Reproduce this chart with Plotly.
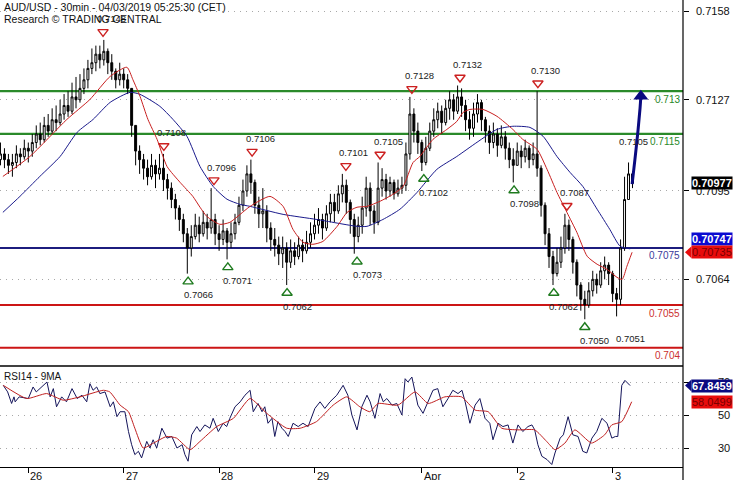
import plotly.graph_objects as go

# ------------------------------------------------------------------ data
day_tick_h = [0, 24, 48, 72, 99, 123, 147]
day_tick_labels = ["26", "27", "28", "29", "Apr", "2", "3"]

# hourly bars (index = hours from Mar 26 00:00, weekend removed); prices in pips (x 0.0001)
bar_h = list(range(-7, 153))
first_open = 7106
bar_close = [7108, 7106, 7104, 7105, 7108, 7107, 7110, 7109, 7112, 7115,
             7113, 7118, 7116, 7120, 7119, 7122, 7125, 7123, 7128, 7127,
             7131, 7134, 7138, 7140, 7143, 7141, 7144, 7140, 7137, 7134,
             7136, 7134, 7131, 7118, 7109, 7106, 7103, 7100, 7104, 7101,
             7103, 7099, 7096, 7092, 7089, 7085, 7080, 7075, 7079, 7083,
             7080, 7084, 7082, 7085, 7080, 7078, 7081, 7077, 7080, 7084,
             7090, 7095, 7101, 7098, 7090, 7087, 7088, 7082, 7078, 7076,
             7073, 7075, 7070, 7074, 7072, 7076, 7074, 7077, 7080, 7083,
             7085, 7082, 7087, 7091, 7088, 7094, 7097, 7091, 7085, 7079,
             7083, 7089, 7096, 7088, 7084, 7096, 7099, 7095, 7098, 7094,
             7096, 7097, 7108, 7122, 7116, 7112, 7105, 7110, 7116, 7120,
             7123, 7119, 7124, 7127, 7123, 7128, 7125, 7120, 7117, 7122,
             7126, 7120, 7116, 7112, 7115, 7111, 7114, 7110, 7106, 7104,
             7109, 7107, 7110, 7106, 7108, 7103, 7090, 7080, 7072, 7066,
             7070, 7075, 7083, 7078, 7070, 7062, 7057, 7055, 7060, 7064,
             7062, 7067, 7069, 7066, 7059, 7057, 7075, 7092, 7101, 7097.7]
bar_high = [7112, 7110, 7108, 7108, 7111, 7110, 7113, 7112, 7115, 7118,
            7119, 7121, 7122, 7124, 7125, 7127, 7129, 7130, 7133, 7135,
            7136, 7138, 7141, 7145, 7146, 7146, 7148, 7145, 7143, 7138,
            7140, 7138, 7136, 7131, 7118, 7111, 7108, 7106, 7108, 7106,
            7108, 7108, 7101, 7098, 7094, 7090, 7087, 7082, 7083, 7087,
            7086, 7088, 7087, 7096, 7087, 7083, 7085, 7082, 7084, 7087,
            7093, 7099, 7104, 7106, 7099, 7093, 7096, 7090, 7084, 7082,
            7079, 7079, 7077, 7078, 7077, 7079, 7078, 7081, 7084, 7087,
            7089, 7087, 7090, 7094, 7094, 7097, 7101, 7099, 7092, 7087,
            7086, 7093, 7100, 7098, 7090, 7105, 7103, 7101, 7100, 7099,
            7099, 7100, 7112, 7128, 7124, 7119, 7113, 7114, 7119, 7124,
            7126, 7125, 7127, 7130, 7129, 7132, 7131, 7127, 7123, 7126,
            7129, 7127, 7121, 7118, 7119, 7117, 7118, 7116, 7112, 7110,
            7112, 7111, 7113, 7111, 7112, 7130, 7104, 7091, 7082, 7074,
            7075, 7079, 7087, 7085, 7079, 7071, 7063, 7060, 7063, 7067,
            7066, 7070, 7072, 7070, 7067, 7061, 7078, 7100, 7105, 7102]
bar_low = [7104, 7103, 7101, 7100, 7103, 7104, 7106, 7105, 7107, 7110,
           7111, 7112, 7114, 7115, 7116, 7118, 7120, 7121, 7122, 7124,
           7126, 7129, 7131, 7136, 7137, 7138, 7139, 7136, 7134, 7131,
           7132, 7131, 7129, 7114, 7104, 7101, 7099, 7097, 7099, 7096,
           7099, 7095, 7092, 7089, 7085, 7081, 7077, 7066, 7072, 7078,
           7077, 7079, 7078, 7080, 7076, 7074, 7076, 7071, 7075, 7078,
           7083, 7088, 7093, 7094, 7087, 7082, 7082, 7077, 7074, 7072,
           7069, 7068, 7062, 7068, 7069, 7071, 7070, 7073, 7075, 7078,
           7080, 7078, 7081, 7084, 7084, 7087, 7091, 7087, 7080, 7073,
           7077, 7080, 7086, 7083, 7080, 7083, 7093, 7092, 7093, 7092,
           7093, 7094, 7095, 7106, 7112, 7108, 7102, 7104, 7109, 7114,
           7117, 7115, 7118, 7120, 7120, 7122, 7121, 7116, 7113, 7114,
           7119, 7116, 7112, 7108, 7110, 7107, 7110, 7106, 7103, 7098,
           7104, 7103, 7105, 7103, 7104, 7100, 7086, 7076, 7068, 7062,
           7065, 7068, 7073, 7074, 7066, 7058, 7053, 7050, 7054, 7058,
           7059, 7061, 7064, 7062, 7056, 7051, 7055, 7074, 7092, 7096]

# moving averages (hour index, pips)
ma_fast_h = [-6.4, 0.4, 9.7, 15.5, 20.6, 24.8, 26.3, 28.1, 30.1, 32.4, 34.9, 38.2, 41.4,
             43.2, 44.9, 48.2, 50.7, 53.3, 55.8, 60.8, 64.1, 66.6, 69.1, 71.6, 74.1,
             77.7, 80.2, 82.7, 85.2, 88.5, 91.7, 94.3, 96.8, 98.5, 101.8, 105.3, 107.8,
             109.4, 111.1, 114.4, 117.9, 121.9, 124.4, 128.0, 130.5, 133.0, 135.5, 138.0,
             140.6, 143.1, 145.6, 148.1, 149.4, 150.6, 151.9]
ma_fast_v = [7100.1, 7107.1, 7120.1, 7127.1, 7135.2, 7138.4, 7134.1, 7128.2, 7120.1, 7113.1,
             7103.6, 7098.0, 7093.1, 7089.3, 7086.1, 7083.3, 7084.0, 7086.8, 7089.6, 7093.1,
             7089.6, 7081.5, 7077.0, 7076.3, 7077.3, 7082.6, 7087.5, 7089.3, 7089.6, 7091.4,
             7093.8, 7096.6, 7105.0, 7107.1, 7113.1, 7116.6, 7119.4, 7122.6, 7123.6, 7123.6,
             7121.2, 7116.6, 7113.1, 7109.6, 7102.6, 7094.5, 7087.5, 7080.5, 7072.1, 7069.3,
             7067.5, 7064.7, 7064.0, 7068.6, 7073.5]
ma_slow_h = [-6.4, -2.1, 2.9, 8.0, 12.3, 16.3, 20.6, 25.6, 28.1, 33.1, 36.4, 39.9, 43.2,
             46.5, 50.0, 53.3, 55.8, 64.1, 72.6, 82.7, 85.2, 89.2, 93.5, 97.8, 102.8,
             107.8, 112.9, 117.9, 121.9, 126.2, 129.5, 133.0, 136.3, 139.5, 143.1, 146.3,
             148.9, 151.4]
ma_slow_v = [7087.5, 7093.1, 7100.1, 7107.1, 7115.6, 7120.1, 7126.1, 7129.6, 7128.9, 7124.7,
             7120.1, 7114.2, 7103.6, 7096.6, 7092.1, 7090.3, 7089.6, 7086.8, 7085.0, 7082.6,
             7082.6, 7085.0, 7088.6, 7094.5, 7102.6, 7107.1, 7112.1, 7116.6, 7117.7, 7117.3,
             7114.2, 7107.1, 7101.5, 7096.6, 7088.6, 7081.5, 7075.6, 7074.7]

# support / resistance levels
level_values = [0.7130, 0.7115, 0.7075, 0.7055, 0.7040]
level_texts = ["0.713", "0.7115", "0.7075", "0.7055", "0.704"]

# swing highs / lows
peak_h = [18.8, 34.1, 46.7, 56.3, 79.9, 88.5, 96.5, 108.6, 128.2, 135.5]
peak_p = [0.7148, 0.7108, 0.7096, 0.7106, 0.7101, 0.7105, 0.7128, 0.7132, 0.7130, 0.7087]
trough_h = [40.2, 50.2, 65.1, 82.7, 99.5, 122.2, 132.2, 140.0]
trough_p = [0.7066, 0.7071, 0.7062, 0.7073, 0.7102, 0.7098, 0.7062, 0.7050]
extra_low_h, extra_low_p = [148.3], [0.7051]
extra_high_h, extra_high_p = [151.0], [0.7105]

# projection arrow
arrow_h = [151.9, 152.6, 153.4, 153.9, 154.1]
arrow_p = [7097.4, 7105.9, 7116.4, 7124.1, 7128.2]

# RSI(14) and its 9-period MA
rsi_h = [-6.3, -5.2, -4.2, -3.6, -3.3, -2.3, 0, 1.2, 2.0, 2.9, 4.7, 5.5, 6.3, 7.1, 8.4, 9.6,
         11, 12.3, 13.5, 14.7, 15.5, 16.3, 17.2, 18.0, 19.3, 20.6, 21.4, 22.3, 23.1, 24.3,
         25.2, 26, 26.8, 27.7, 28.5, 29.8, 30.6, 31.4, 32.3, 33.6, 34.9, 36.1, 37.4, 38.7,
         39.4, 40.2, 41.1, 42.4, 43.2, 44.4, 45.7, 46.5, 47.8, 49, 49.9, 50.7, 52, 53.3,
         54.5, 55.8, 56.6, 57.8, 58.8, 59.5, 60.3, 61.3, 62, 62.8, 63.8, 64.6, 65.4, 66.6,
         67.9, 69.1, 70.4, 72.1, 73.4, 74.6, 75.9, 77.6, 79.2, 80.4, 81.4, 82.7, 83.9, 85.2,
         86, 87.2, 88.5, 89.3, 90.2, 91.5, 92.7, 94, 94.8, 95.5, 96.5, 97.3, 98, 99.3,
         100.6, 101.8, 103, 104.3, 105.6, 106.8, 108.1, 109.1, 109.9, 111.1, 112.4, 113.6,
         114.9, 116.1, 116.9, 118.2, 119.4, 120.7, 121.9, 123.2, 124.4, 125.7, 126.7, 127.4,
         128.2, 129.2, 130.5, 131.7, 132.5, 133.8, 134.6, 135.8, 137, 138.3, 139.5, 140.5,
         141.8, 143, 144.3, 145.6, 146.8, 147.7, 148.3, 149.3, 150.1, 151.4]
rsi_v = [68, 64, 57, 61, 58, 61, 60, 67, 64, 66, 70, 61, 66, 55, 61, 58,
         66, 60, 62, 58, 69, 65, 67, 63, 64, 55, 58, 49, 52, 52,
         40, 32, 26, 28, 24, 34, 30, 35, 30, 42, 36, 37, 30, 32,
         26, 22, 38, 43, 40, 44, 42, 48, 40, 45, 43, 48, 55, 58,
         62, 65, 52, 57, 52, 55, 45, 48, 37, 46, 42, 40, 37, 45,
         43, 45, 43, 54, 58, 54, 58, 62, 68, 62, 50, 41, 55, 62,
         58, 48, 63, 58, 60, 56, 57, 50, 72, 70, 73, 64, 56, 51,
         58, 65, 66, 55, 60, 65, 63, 65, 58, 45, 56, 60,
         48, 45, 35, 45, 43, 44, 33, 44, 40, 43, 44, 41,
         32, 25, 23, 20, 27, 36, 38, 49, 38, 37, 28, 27,
         36, 40, 48, 45, 36, 37, 37, 68, 71, 67.8459]
rsi_ma_h = [-6.3, -0.4, 4.6, 8.8, 13, 18.9, 20.5, 23.1, 25.2, 26.8, 28.9, 31.5, 34.8, 37.3,
            40.7, 43.2, 47.4, 51.6, 55.8, 60, 65, 68.4, 72.5, 76.7, 80.1, 83.4, 85.9, 88,
            93, 97.3, 100.6, 104.8, 109, 112.4, 115.7, 119.1, 123.2, 127.4, 130.4, 132.5,
            135, 137.5, 141.7, 145, 146.8, 149.3, 151.8]
rsi_ma_v = [68, 60, 63, 59, 61, 65, 64, 56, 52, 42, 30, 33, 37, 36,
            29, 34, 43, 48, 60, 51, 42, 42, 46, 56, 61, 55, 52, 57,
            56, 64, 57, 61, 61, 53, 52, 42, 41, 41, 34, 29,
            33, 41, 33, 38, 44, 46, 58.0499]
rsi_ticks = [70, 50, 30]

price_ticks = [0.7158, 0.7127, 0.7095, 0.7064]
last_close, fast_last, slow_last = 0.70977, 0.70735, 0.70747
rsi_last, rsi_ma_last = 67.8459, 58.0499

# ------------------------------------------------------------------ geometry / style
W, H = 735, 480
ML, MR, MT, MB = 0, 52, 0, 13
PW, PH = W - ML - MR, H - MT - MB
X0_PX, PX_PER_H = 28.3, 3.975
x_range = [-X0_PX / PX_PER_H, (PW - X0_PX) / PX_PER_H]
PRICE_TOP_PX = 366
price_range = [0.70336, 0.71620]
rsi_range = [18.5, 79.1]
price_dom = [(PH - PRICE_TOP_PX) / PH, 1]
rsi_dom = [0, (PH - PRICE_TOP_PX - 1) / PH]
px_per_price = PRICE_TOP_PX / (price_range[1] - price_range[0])

FONT = "Liberation Sans, Arial, sans-serif"
P = 1e-4

def pp(v):
    return [x * P for x in v]

opens = [first_open] + bar_close[:-1]
highs = [max(h, o, c) for h, o, c in zip(bar_high, opens, bar_close)]
lows = [min(l, o, c) for l, o, c in zip(bar_low, opens, bar_close)]

fig = go.Figure()

# levels
level_colors = ["#2a8a2a", "#2a8a2a", "#1c1c7e", "#cc1515", "#cc1515"]
for v, c in zip(level_values, level_colors):
    fig.add_shape(type="line", xref="paper", yref="y", x0=0, x1=1, y0=v, y1=v,
                  line=dict(color=c, width=2.2), layer="below")

fig.add_trace(go.Candlestick(
    x=bar_h, open=pp(opens), high=pp(highs), low=pp(lows), close=pp(bar_close),
    increasing=dict(line=dict(color="black", width=1), fillcolor="white"),
    decreasing=dict(line=dict(color="black", width=1), fillcolor="black"),
    whiskerwidth=0, showlegend=False, hoverinfo="skip", xaxis="x", yaxis="y"))

fig.add_trace(go.Scatter(x=ma_slow_h, y=pp(ma_slow_v), mode="lines",
                         line=dict(color="#1a1a8c", width=1, shape="spline", smoothing=0.6),
                         showlegend=False, hoverinfo="skip"))
fig.add_trace(go.Scatter(x=ma_fast_h, y=pp(ma_fast_v), mode="lines",
                         line=dict(color="#c82020", width=1, shape="spline", smoothing=0.6),
                         showlegend=False, hoverinfo="skip"))

# arrow
fig.add_trace(go.Scatter(x=arrow_h, y=pp(arrow_p), mode="lines",
                         line=dict(color="#0a0a80", width=3, shape="spline"),
                         showlegend=False, hoverinfo="skip", cliponaxis=False))
fig.add_trace(go.Scatter(x=[arrow_h[-1]], y=[arrow_p[-1] * P], mode="markers",
                         marker=dict(symbol="triangle-up", size=13, color="#0a0a80"),
                         showlegend=False, hoverinfo="skip", cliponaxis=False))

# swing markers
tri_off = 8 / px_per_price
fig.add_trace(go.Scatter(x=peak_h, y=[p + tri_off for p in peak_p], mode="markers",
                         marker=dict(symbol="triangle-down-open", size=9,
                                     color="#cc2020", line=dict(width=1.4, color="#cc2020")),
                         showlegend=False, hoverinfo="skip", cliponaxis=False))
fig.add_trace(go.Scatter(x=trough_h, y=[p - tri_off for p in trough_p], mode="markers",
                         marker=dict(symbol="triangle-up-open", size=9,
                                     color="#1e7a1e", line=dict(width=1.4, color="#1e7a1e")),
                         showlegend=False, hoverinfo="skip", cliponaxis=False))

# RSI
fig.add_trace(go.Scatter(x=rsi_h, y=rsi_v, mode="lines", xaxis="x", yaxis="y2",
                         line=dict(color="#14145a", width=1), showlegend=False, hoverinfo="skip"))
fig.add_trace(go.Scatter(x=rsi_ma_h, y=rsi_ma_v, mode="lines", xaxis="x", yaxis="y2",
                         line=dict(color="#c02020", width=1, shape="spline", smoothing=0.5),
                         showlegend=False, hoverinfo="skip"))

ann = []
def txt(x, y, s, xref="x", yref="y", size=9.5, color="#222222", xanchor="center",
        yanchor="middle", xshift=0, yshift=0, **kw):
    ann.append(dict(x=x, y=y, xref=xref, yref=yref, text=s, showarrow=False,
                    font=dict(family=FONT, size=size, color=color), xanchor=xanchor,
                    yanchor=yanchor, xshift=xshift, yshift=yshift, **kw))

for h, p in zip(peak_h, peak_p):
    txt(h, p, f"{p:.4f}", xshift=8, yshift=21)
for h, p in zip(trough_h, trough_p):
    txt(h, p, f"{p:.4f}", xshift=10, yshift=-21)
for h, p in zip(extra_low_h, extra_low_p):
    txt(h, p, f"{p:.4f}", xshift=13, yshift=-22)
for h, p in zip(extra_high_h, extra_high_p):
    txt(h, p, f"{p:.4f}", xshift=5, yshift=21)

level_txt_colors = ["#2a8a2a", "#2a8a2a", "#3a3a9a", "#cc3030", "#cc3030"]
for v, s, c in zip(level_values, level_texts, level_txt_colors):
    txt(1, v, s, xref="paper", size=10, color=c, xanchor="right", xshift=-1, yshift=-8)

# title
txt(0, 1, "AUD/USD - 30min - 04/03/2019 05:25:30 (CET)", xref="paper", yref="paper",
    size=10.5, color="#111111", xanchor="left", yanchor="top", xshift=2, yshift=1)
txt(0, 1, "Research \u00a9 TRADING CENTRAL", xref="paper", yref="paper",
    size=10.5, color="#111111", xanchor="left", yanchor="top", xshift=2, yshift=-11)
txt(0, rsi_dom[1], "RSI14 - 9MA", xref="paper", yref="paper", size=10,
    color="#111111", xanchor="left", yanchor="top", xshift=2, yshift=-2)

# axis tick labels (right aligned, as in the reference)
lab_x = (732 - ML) / PW
for v in price_ticks:
    txt(lab_x, v, f"{v:.4f}", xref="paper", size=11, color="#111111", xanchor="right")
for v in rsi_ticks:
    txt(lab_x, v, str(v), xref="paper", yref="y2", size=11, color="#111111", xanchor="right")
for h, s in zip(day_tick_h, day_tick_labels):
    txt(h, 0, s, yref="paper", size=11, color="#111111", xanchor="left", yanchor="top",
        xshift=0, yshift=-1)

# value boxes
box_x = 691 / PW
def box(y, s, bg, fg, yref="y", yshift=0):
    ann.append(dict(x=box_x, y=y, xref="paper", yref=yref, text=s, showarrow=False,
                    font=dict(family=FONT, size=11, color=fg), bgcolor=bg, borderpad=0,
                    xanchor="left", yanchor="middle", yshift=yshift))
box(last_close, "<b>0.70977</b>", "black", "white")
box(slow_last, "<b>0.70747</b>", "#0a0ad0", "white", yshift=10)
box(fast_last, "0.70735", "#e80c0c", "#7a0000")
box(rsi_last, "<b>67.8459</b>", "#0a0a80", "white", yref="y2")
box(rsi_ma_last, "58.0499", "#e80c0c", "#7a0000", yref="y2")

# pointers of boxes
def pointer(y, color, yref, half):
    tip = 685 / PW
    base = 691.5 / PW
    fig.add_shape(type="path", xref="paper", yref=yref,
                  path=f"M {tip},{y} L {base},{y + half} L {base},{y - half} Z",
                  fillcolor=color, line=dict(width=0))
pointer(fast_last, "#e80c0c", "y", 6 / px_per_price)
pointer(rsi_last, "#0a0a80", "y2", 6 / (100 / (rsi_range[1] - rsi_range[0])))

# pane separator and right axis line
sep = price_dom[0]
fig.add_shape(type="line", xref="paper", yref="paper", x0=0, x1=1, y0=sep, y1=sep,
              line=dict(color="black", width=1.5))
fig.add_shape(type="line", xref="paper", yref="paper", x0=1, x1=1, y0=-MB / PH, y1=1,
              line=dict(color="black", width=1.2))

grid = dict(showgrid=True, gridcolor="#a8a8a8", griddash="1px,5px", gridwidth=1)
fig.update_layout(
    width=W, height=H, margin=dict(l=ML, r=MR, t=MT, b=MB),
    paper_bgcolor="white", plot_bgcolor="white", showlegend=False,
    font=dict(family=FONT, size=11, color="#111111"),
    xaxis=dict(domain=[0, 1], range=x_range, anchor="y2", showline=True, linecolor="black",
               linewidth=1.2, ticks="outside", ticklen=5, tickcolor="black",
               tickvals=day_tick_h, showticklabels=False, showgrid=False, zeroline=False,
               rangeslider=dict(visible=False), fixedrange=True),
    yaxis=dict(domain=price_dom, range=price_range, side="right", anchor="x",
               ticks="outside", ticklen=5, tickcolor="black", tickvals=price_ticks,
               showticklabels=False, zeroline=False, showline=False, **grid),
    yaxis2=dict(domain=rsi_dom, range=rsi_range, side="right", anchor="x",
                ticks="outside", ticklen=5, tickcolor="black", tickvals=rsi_ticks,
                showticklabels=False, zeroline=False, showline=False, **grid),
    annotations=ann,
)

fig.write_html("out.html", config={"displayModeBar": False},
               post_script="document.body.style.margin='0';document.body.style.overflow='hidden';")
